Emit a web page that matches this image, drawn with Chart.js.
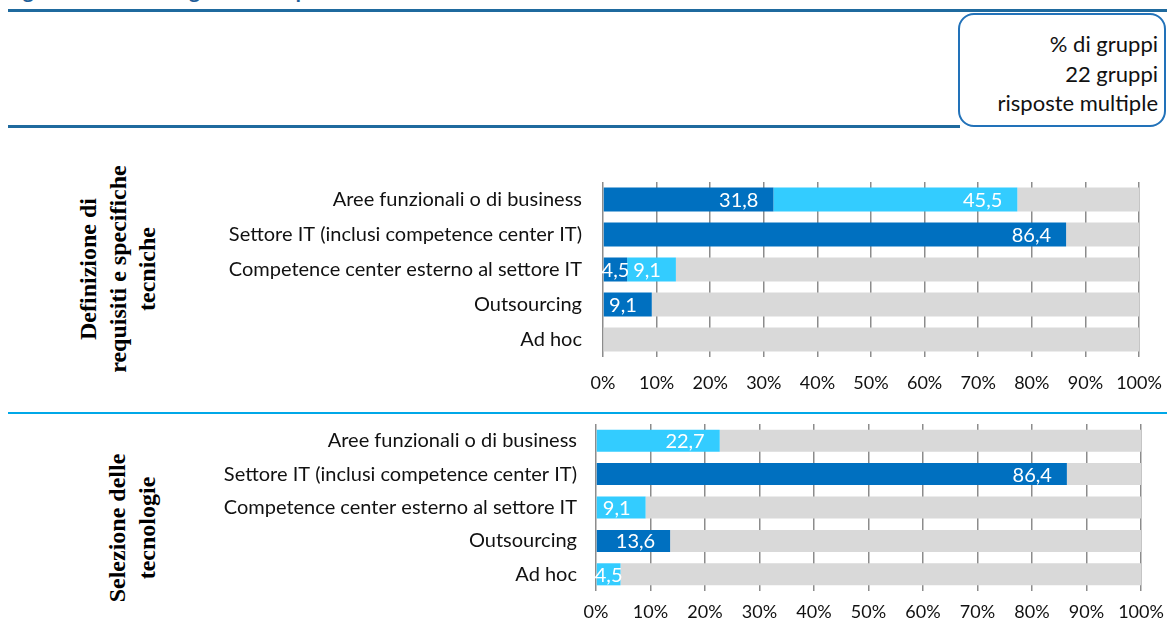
<!DOCTYPE html>
<html>
<head>
<meta charset="utf-8">
<script src="https://cdn.jsdelivr.net/npm/chart.js@4"></script>
<style>
  html, body { margin: 0; padding: 0; overflow: hidden; background: #fff; }
  body { width: 1167px; height: 624px; position: relative; font-family: Lato, "Open Sans", sans-serif; }
  .rule { position: absolute; left: 8px; }
  .title { position: absolute; left: 8px; top: -21px; font: bold 18px "Open Sans", sans-serif; color: #1F5F99; white-space: nowrap; }
  .note {
    position: absolute; left: 958px; top: 13px; width: 204px; height: 110px;
    border: 2px solid #2272B9; border-radius: 16px; background: #fff;
    font-size: 22px; line-height: 29.5px; text-align: right; color: #111;
    box-sizing: content-box;
  }
  .note div { padding: 14px 6px 0 0; }
  .group {
    position: absolute; font: bold 24px "Liberation Serif", "Times New Roman", serif;
    line-height: 29.5px; text-align: center; white-space: nowrap; color: #000;
    transform: translate(-50%, -50%) rotate(-90deg);
  }
  canvas { position: absolute; }
</style>
</head>
<body>
<div class="title">Figura 8 – Assetto organizzativo per le fasi</div>
<div class="rule" style="top:9px;width:1159px;height:3px;background:#1F6A9E"></div>
<div class="rule" style="top:125px;width:952px;height:3px;background:#1F6A9E"></div>
<div class="rule" style="top:412px;width:1159px;height:2px;background:#00A8E8"></div>
<div class="note"><div>% di gruppi<br>22 gruppi<br>risposte multiple</div></div>

<div class="group" style="left:118px;top:269px">Definizione di<br>requisiti e specifiche<br>tecniche</div>
<div class="group" style="left:132px;top:528px">Selezione delle<br>tecnologie</div>

<div id="box1" style="position:absolute;left:190px;top:175px;width:977px;height:222px"><canvas id="chart1"></canvas></div>
<div id="box2" style="position:absolute;left:190px;top:418px;width:977px;height:206px"><canvas id="chart2"></canvas></div>

<script>
const categories = [
  "Aree funzionali o di business",
  "Settore IT (inclusi competence center IT)",
  "Competence center esterno al settore IT",
  "Outsourcing",
  "Ad hoc",
];
const xTicks = [0, 10, 20, 30, 40, 50, 60, 70, 80, 90, 100];

// Definizione di requisiti e specifiche tecniche
const defDark = [31.8, 86.4, 4.5, 9.1, 0];
const defLight = [45.5, 0, 9.1, 0, 0];

// Selezione delle tecnologie
const selDark = [0, 86.4, 0, 13.6, 0];
const selLight = [22.7, 0, 9.1, 0, 4.5];

const DARK = "#0070C0";
const LIGHT = "#33CCFF";
const REST = "#D9D9D9";
const FONT = "Lato, 'Open Sans', sans-serif";

const formatValue = (v) => v.toFixed(1).replace(".", ",");

const valueLabels = {
  id: "valueLabels",
  afterDatasetsDraw(chart) {
    const ctx = chart.ctx;
    ctx.save();
    ctx.font = `20px ${FONT}`;
    ctx.fillStyle = "#fff";
    ctx.textBaseline = "middle";
    [0, 1].forEach((di) => {
      const meta = chart.getDatasetMeta(di);
      meta.data.forEach((bar, i) => {
        const v = chart.data.datasets[di].data[i];
        if (!v) return;
        const text = formatValue(v);
        const w = ctx.measureText(text).width;
        const start = bar.base;
        const end = bar.x;
        let x = end - 15 - w;
        if (x < start + 2) x = (start + end) / 2 - w / 2;
        ctx.textAlign = "left";
        ctx.fillText(text, x, bar.y + 1);
      });
    });
    ctx.restore();
  },
};

const makeChart = (canvasId, dark, light, opts) => {
  const rest = dark.map((d, i) => Math.round((100 - d - light[i]) * 10) / 10);
  return new Chart(document.getElementById(canvasId), {
    type: "bar",
    data: {
      labels: categories,
      datasets: [
        { data: dark, backgroundColor: DARK },
        { data: light, backgroundColor: LIGHT },
        { data: rest, backgroundColor: REST },
      ],
    },
    options: {
      indexAxis: "y",
      responsive: true,
      maintainAspectRatio: false,
      animation: false,
      datasets: {
        bar: {
          barPercentage: 1,
          categoryPercentage: opts.catPct,
          borderWidth: 0,
          borderSkipped: false,
        },
      },
      layout: {
        padding: { top: opts.padTop, right: opts.padRight, left: 0, bottom: 0 },
      },
      plugins: {
        legend: { display: false },
        tooltip: { enabled: false },
      },
      scales: {
        x: {
          stacked: true,
          min: 0,
          max: 100,
          afterBuildTicks: (scale) => {
            scale.ticks = xTicks.map((v) => ({ value: v }));
          },
          afterFit: (scale) => {
            scale.height = opts.xHeight;
            scale.paddingLeft = 0;
            scale.paddingRight = 0;
          },
          border: { display: false },
          grid: {
            color: "#8C8C8C",
            lineWidth: 1.5,
            drawTicks: true,
            tickLength: opts.tickLen,
          },
          ticks: {
            padding: opts.tickPad,
            color: "#111",
            font: { family: FONT, size: 18 },
            maxRotation: 0,
            callback: (v) => `${v}%`,
          },
        },
        y: {
          stacked: true,
          afterFit: (scale) => {
            scale.width = opts.yWidth;
            scale.paddingTop = 0;
            scale.paddingBottom = 0;
          },
          border: { display: false },
          grid: { display: false, drawTicks: false },
          ticks: {
            padding: opts.yPad,
            color: "#111",
            font: { family: FONT, size: 20 },
          },
        },
      },
    },
    plugins: [valueLabels],
  });
};

makeChart("chart1", defDark, defLight, {
  catPct: 0.686,
  padTop: 7,
  padRight: 28,
  xHeight: 40,
  tickLen: 0,
  tickPad: 15,
  yWidth: 413,
  yPad: 21,
});

makeChart("chart2", selDark, selLight, {
  catPct: 0.66,
  padTop: 6,
  padRight: 26,
  xHeight: 33,
  tickLen: 0,
  tickPad: 10,
  yWidth: 406,
  yPad: 19,
});
</script>
</body>
</html>
